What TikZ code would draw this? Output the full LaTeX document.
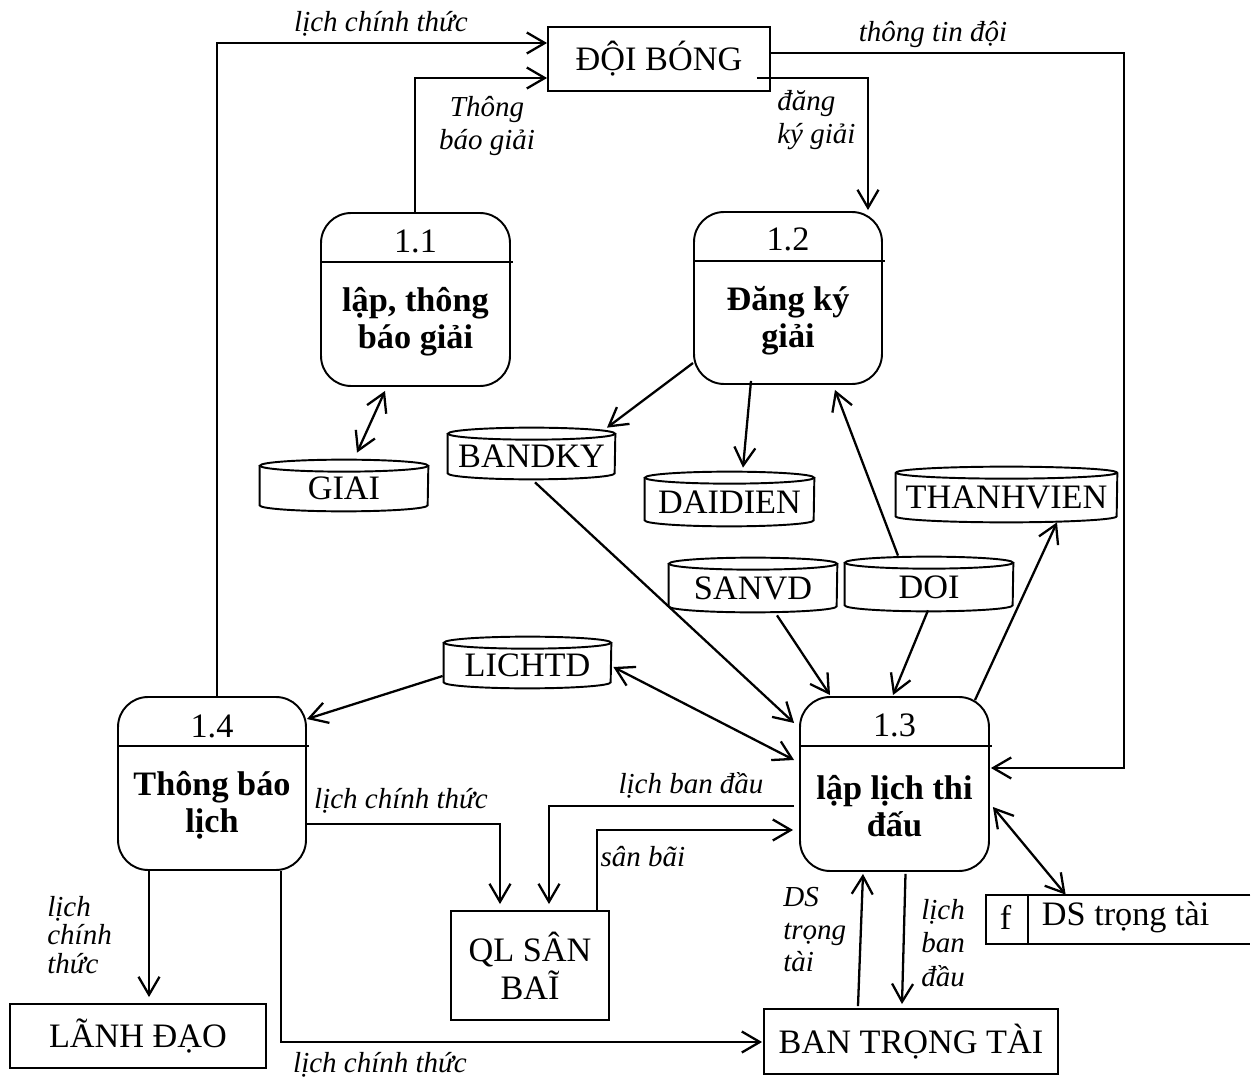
\documentclass[tikz,border=0pt]{standalone}
\usepackage{fontspec}
\setmainfont{Liberation Serif}
\usetikzlibrary{arrows.meta,calc}

% data store: #1 name, #2 left, #3 right, #4 top, #5 bottom, #6 label
\newcommand\datastore[6]{%
  \node[sbody, minimum width={(#3-#2)*0.02cm}, minimum height={(#5-#4-6)*0.02cm}]
    (#1) at ({(#2+#3)/2},{(#4+6+#5)/2}) {#6};
  \draw[box] (#1.north) ellipse [x radius={(#3-#2)/2}, y radius=6];
  \draw[box] (#1.north west) -- ($(#1.south west)+(0,-6)$)
    arc [start angle=180, end angle=0, x radius={(#3-#2)/2}, y radius=6]
    -- (#1.north east);
}

\tikzset{
  line/.style={line width=1.3pt},
  tipv/.tip={Straight Barb[length=0.36cm,width=0.42cm]},
  arr/.style={line, -tipv},
  darr/.style={line, tipv-tipv},
  box/.style={draw, line width=1.1pt},
  ent/.style={box, inner sep=0, align=center, font=\fontsize{19.5}{21.6}\selectfont},
  proc/.style={box, rounded corners=0.6cm, inner sep=0},
  pid/.style={inner sep=0, font=\fontsize{19.5}{24}\selectfont},
  ptitle/.style={inner sep=0, align=center, font=\fontsize{19.5}{21}\selectfont\bfseries},
  sbody/.style={inner sep=0, font=\fontsize{19.5}{24}\selectfont},
  lab/.style={inner sep=0, font=\fontsize{16.5}{18.5}\selectfont\itshape},
}

\begin{document}
\begin{tikzpicture}[x=0.02cm, y=-0.02cm]
\useasboundingbox (0,0) rectangle (1259,1081);

% external entities
\node[ent, minimum width=4.44cm, minimum height=1.28cm] (doi) at (659,59) {ĐỘI BÓNG};
\node[ent, minimum width=5.12cm, minimum height=1.28cm] (ld) at (138,1036) {LÃNH ĐẠO};
\node[ent, minimum width=3.16cm, minimum height=2.18cm] (ql) at (530,965.5) {QL SÂN\\BAĨ};
\node[ent, minimum width=5.88cm, minimum height=1.30cm] (btt) at (911,1041.5) {BAN TRỌNG TÀI};

% processes
\node[proc, minimum width=3.78cm, minimum height=3.46cm] (p11) at (415.5,299.5) {};
\node[proc, minimum width=3.76cm, minimum height=3.44cm] (p12) at (788,298) {};
\node[proc, minimum width=3.78cm, minimum height=3.48cm] (p13) at (894.5,784) {};
\node[proc, minimum width=3.76cm, minimum height=3.46cm] (p14) at (212,783.5) {};
\foreach \p in {p11,p12,p13,p14}
  \draw[box] ($(\p.north west)+(0,50)$) -- ($(\p.north east)+(2,50)$);
\node[pid] (p11id) at ($(p11.north)+(0,29)$) {1.1};
\node[pid] (p12id) at ($(p12.north)+(0,28)$) {1.2};
\node[pid] (p13id) at ($(p13.north)+(0,29)$) {1.3};
\node[pid] (p14id) at ($(p14.north)+(0,30)$) {1.4};
\node[ptitle] (p11t) at ($(p11.north)+(0,110)$) {lập, thông\\báo giải};
\node[ptitle] (p12t) at ($(p12.north)+(0,110)$) {Đăng ký\\giải};
\node[ptitle] (p13t) at ($(p13.north)+(0,110)$) {lập lịch thi\\đấu};
\node[ptitle] (p14t) at ($(p14.north)+(0,109)$) {Thông báo\\lịch};

% data stores
\datastore{giai}{260}{428}{460}{511}{GIAI}
\datastore{bandky}{448}{615}{428}{479}{BANDKY}
\datastore{daidien}{645}{814}{472}{526}{DAIDIEN}
\datastore{thanhvien}{896}{1117}{467}{522}{THANHVIEN}
\datastore{sanvd}{669}{837}{558}{612}{SANVD}
\datastore{doistore}{845}{1013}{557}{611}{DOI}
\datastore{lichtd}{444}{611}{637}{688}{LICHTD}

% referee list store, open on the right
\node[inner sep=0, minimum width=5.28cm, minimum height=0.98cm] (dsbox) at (1118,919.5) {};
\draw[box] (dsbox.north east) -- (dsbox.north west) -- (dsbox.south west) -- (dsbox.south east);
\draw[box] ($(dsbox.north west)+(42,0)$) -- ($(dsbox.south west)+(42,0)$);
\node[sbody] (dsf) at ($(dsbox.west)+(20,-2)$) {f};
\node[sbody] (dsname) at ($(dsbox.west)+(140,-2.5)$) {DS trọng tài};

% flows
\draw[arr] ($(p14.north)+(5,0)$) |- ($(doi.west)+(0,-16)$);
\draw[arr] ($(p11.north)+(-0.5,0)$) |- ($(doi.west)+(0,19)$);
\draw[arr] ($(doi.east)+(0,-6)$) -- ++(353,0) |- ($(p13.east)+(1,-16)$);
\draw[arr] ($(doi.east)+(-14,19)$) -| ($(p12.north)+(80,-1)$);
\draw[darr] ($(p11.south)+(-30.5,4)$) -- ($(giai.north)+(13,-13)$);
\draw[arr] ($(p12.west)+(0,65)$) -- ($(bandky.north)+(75.5,-6)$);
\draw[arr] ($(p12.south)+(-37,-4)$) -- ($(daidien.north)+(13.5,-10)$);
\draw[arr] ($(doistore.north)+(-31,-7)$) -- ($(p12.south)+(47,5)$);
\draw[arr] ($(bandky.south)+(3.5,3)$) -- ($(p13.west)+(-5,-61)$);
\draw[arr] ($(sanvd.south)+(24,3)$) -- ($(p13.north)+(-64.5,-1)$);
\draw[arr] ($(doistore.south)+(-1,-1)$) -- ($(p13.north)+(-1.5,-1)$);
\draw[arr] ($(p13.north)+(80.5,4)$) -- ($(thanhvien.south)+(50.5,0)$);
\draw[darr] ($(lichtd.east)+(2,1.5)$) -- ($(p13.west)+(-5,-24)$);
\draw[arr] ($(lichtd.west)+(-1,10.5)$) -- ($(p14.east)+(0,-64.5)$);
\draw[arr] ($(p14.east)+(-2,40.5)$) -| ($(ql.north)+(-30,-6)$);
\draw[arr] ($(p13.west)+(-5,22)$) -| ($(ql.north)+(19,-6)$);
\draw[arr] ($(ql.north)+(67,0)$) |- ($(p13.west)+(-6,46)$);
\draw[arr] ($(p14.south)+(-63,-2)$) -- ($(ld.north)+(11,-6)$);
\draw[arr] ($(p14.south)+(69,0)$) |- ($(btt.west)+(-1,0.5)$);
\draw[arr] ($(btt.north)+(-53,-2)$) -- ($(p13.south)+(-31.5,2)$);
\draw[arr] ($(p13.south)+(11,2)$) -- ($(btt.north)+(-9,-4)$);
\draw[darr] ($(p13.east)+(3,23)$) -- ($(dsbox.north west)+(80,0)$);

% flow labels
\node[lab] (l1) at (381,24) {lịch chính thức};
\node[lab, align=center] (l2) at (487,126) {Thông\\báo giải};
\node[lab] (l3) at (933,35) {thông tin đội};
\node[lab, align=left, anchor=west] (l4) at (777,120) {đăng\\ký giải};
\node[lab] (l5) at (401,801) {lịch chính thức};
\node[lab] (l6) at (691,785) {lịch ban đầu};
\node[lab] (l7) at (643,857) {sân bãi};
\node[lab, align=left, anchor=west, font=\fontsize{16.5}{16}\selectfont\itshape] (l8) at (47,935) {lịch\\chính\\thức};
\node[lab] (l9) at (380,1065) {lịch chính thức};
\node[lab, align=left, anchor=west] (l10) at (783,930) {DS\\trọng\\tài};
\node[lab, align=left, anchor=west, font=\fontsize{16.5}{19}\selectfont\itshape] (l11) at (921,943) {lịch\\ban\\đầu};
\end{tikzpicture}
\end{document}
